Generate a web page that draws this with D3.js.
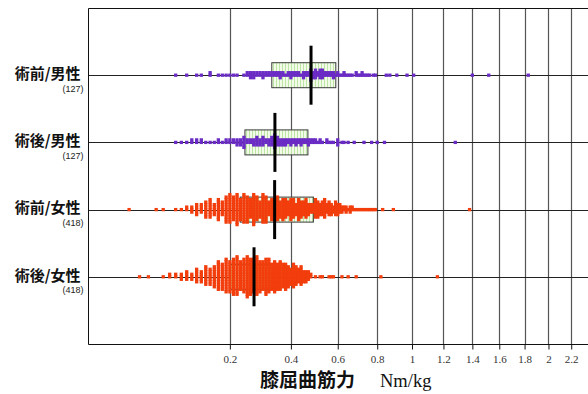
<!DOCTYPE html>
<html>
<head>
<meta charset="utf-8">
<script src="https://cdn.jsdelivr.net/npm/d3@7"></script>
<style>
  html, body { margin: 0; padding: 0; background: #fff; }
  svg { display: block; }
</style>
</head>
<body>
<svg id="chart" width="588" height="394"></svg>
<script>
// ---- data -------------------------------------------------------------
const categories = ["術前/男性", "術後/男性", "術前/女性", "術後/女性"];
const sampleSizes = [127, 127, 418, 418];

// box statistics (Nm/kg)
const boxQ1     = [0.330, 0.243, 0.229, 0.200];
const boxMedian = [0.481, 0.341, 0.340, 0.271];
const boxQ3     = [0.591, 0.468, 0.491, 0.356];

// individual measurements: value (Nm/kg) and how many subjects share it
const preMaleValues  = [0.08,0.10,0.12,0.13,0.15,0.17,0.18,0.19,0.20,0.21,0.22,0.24,0.25,0.26,0.27,0.28,0.29,0.30,0.31,0.32,
                        0.33,0.34,0.35,0.36,0.37,0.38,0.39,0.40,0.41,0.42,0.43,0.44,0.45,0.46,0.47,0.48,
                        0.49,0.50,0.51,0.52,0.53,0.54,0.55,0.56,0.57,0.58,0.59,0.60,0.61,
                        0.62,0.63,0.64,0.65,0.66,0.67,0.69,0.70,0.71,0.72,0.73,0.74,0.75,0.76,0.78,0.79,0.85,0.87,0.91,0.97,1.01,1.40,1.52,1.83];
const preMaleCounts  = [1,1,1,1,2,1,1,1,1,1,1,1,2,3,3,2,2,3,2,2,
                        2,2,2,3,2,1,2,3,2,2,2,1,3,2,2,5,
                        3,4,2,4,4,2,2,2,2,3,1,2,1,
                        1,2,1,1,1,1,2,1,1,2,1,1,1,1,1,1,1,1,1,1,1,1,1,1];

const postMaleValues = [0.08,0.09,0.10,0.11,0.12,0.13,0.14,0.15,0.16,0.17,0.18,0.19,0.20,0.21,0.22,0.23,0.24,
                        0.25,0.26,0.27,0.28,0.29,0.30,0.31,0.32,0.33,0.34,
                        0.35,0.36,0.37,0.38,0.39,0.40,0.41,0.42,0.43,0.44,0.45,0.46,0.47,
                        0.48,0.49,0.50,0.51,0.52,0.53,0.55,0.56,0.57,0.58,0.60,0.62,0.63,0.65,0.68,0.73,0.77,0.80,0.84,1.28];
const postMaleCounts = [1,1,1,2,2,2,1,1,1,2,1,2,2,2,3,3,5,
                        2,2,3,4,3,4,2,3,4,6,
                        4,3,3,3,2,3,2,3,2,3,2,2,3,
                        2,2,2,1,2,1,2,1,1,1,3,1,1,1,1,1,1,1,1,1];

const preFemaleValues  = [0.02,0.05,0.06,0.08,0.09,
                          0.10,0.11,0.12,0.13,0.14,0.15,0.16,0.17,0.18,0.19,0.20,0.21,0.22,
                          0.23,0.24,0.25,0.26,0.27,0.28,0.29,0.30,0.31,0.32,0.33,0.34,
                          0.35,0.36,0.37,0.38,0.39,0.40,0.41,0.42,0.43,0.44,0.45,0.46,0.47,0.48,0.49,
                          0.50,0.51,0.52,0.53,0.54,0.55,0.56,0.57,0.58,0.59,0.60,
                          0.61,0.62,0.63,0.64,0.65,0.66,0.67,
                          0.68,0.69,0.70,0.71,0.72,0.73,0.74,0.75,0.76,0.77,0.78,0.79,0.83,0.89,1.38];
const preFemaleCounts  = [1,1,1,1,1,
                          2,3,5,4,7,8,5,9,6,11,12,10,13,
                          9,12,11,8,13,10,7,12,11,6,9,9,
                          10,7,9,8,6,9,8,5,9,7,6,8,5,4,4,
                          8,7,5,6,8,4,6,5,3,6,5,
                          4,3,2,3,1,3,2,
                          1,1,1,1,1,1,1,1,1,1,1,1,1,1,1];

const postFemaleValues = [0.03,0.04,0.06,0.07,0.08,
                          0.09,0.10,0.11,0.12,0.13,0.14,0.15,0.16,0.17,0.18,0.19,
                          0.20,0.21,0.22,0.23,0.24,0.25,0.26,0.27,
                          0.28,0.29,0.30,0.31,0.32,0.33,0.34,0.35,
                          0.36,0.37,0.38,0.39,0.40,0.41,0.42,0.43,0.44,0.45,0.46,0.47,
                          0.48,0.50,0.52,0.53,0.56,0.57,0.58,0.62,0.65,0.69,0.82,1.16];
const postFemaleCounts = [1,1,1,2,2,
                          3,4,3,6,5,8,7,9,12,11,14,
                          13,15,16,12,14,17,15,14,
                          16,13,12,15,14,11,13,11,
                          12,10,11,9,7,10,8,6,8,5,5,4,
                          2,1,1,1,1,1,1,1,1,1,1,1];

const groupValues = [preMaleValues, postMaleValues, preFemaleValues, postFemaleValues];
const groupCounts = [preMaleCounts, postMaleCounts, preFemaleCounts, postFemaleCounts];
const groupColors = ["#6a2cc4", "#6a2cc4", "#f23d0c", "#f23d0c"];

const tickValues = [0.2, 0.4, 0.6, 0.8, 1, 1.2, 1.4, 1.6, 1.8, 2, 2.2];
const tickLabels = ["0.2", "0.4", "0.6", "0.8", "1", "1.2", "1.4", "1.6", "1.8", "2", "2.2"];

// ---- layout -----------------------------------------------------------
const frame = { left: 88, top: 8, bottom: 344, right: 588 };
const boxHalf = 12.5, medianHalf = 29.5;
const dotSize = 3.3, dotPitch = 2.5;

const svg = d3.select("#chart");

// square-root scaled strength axis
const x = d3.scaleSqrt()
  .domain([0, 2.4])
  .range([82.5, 82.5 + 329.5 * Math.sqrt(2.4)]);

const y = d3.scalePoint()
  .domain(categories)
  .range([frame.top, frame.bottom])
  .padding(1);

// hatch fill for the interquartile boxes
const defs = svg.append("defs");
const pat = defs.append("pattern")
  .attr("id", "hatch")
  .attr("width", 3).attr("height", 3)
  .attr("patternUnits", "userSpaceOnUse");
pat.append("rect").attr("width", 3).attr("height", 3).attr("fill", "#f1fbe8");
pat.append("rect").attr("width", 1).attr("height", 3).attr("fill", "#bde6a6");

// vertical grid lines
svg.append("g")
  .selectAll("line")
  .data(tickValues)
  .join("line")
  .attr("x1", d => Math.round(x(d)) + 0.5)
  .attr("x2", d => Math.round(x(d)) + 0.5)
  .attr("y1", frame.top)
  .attr("y2", frame.bottom)
  .attr("stroke", "#555")
  .attr("stroke-width", 1.2);

// category base lines
svg.append("g")
  .selectAll("line")
  .data(categories)
  .join("line")
  .attr("x1", frame.left)
  .attr("x2", frame.right)
  .attr("y1", d => Math.round(y(d)) + 0.5)
  .attr("y2", d => Math.round(y(d)) + 0.5)
  .attr("stroke", "#222")
  .attr("stroke-width", 1);

// interquartile boxes
svg.append("g")
  .selectAll("rect")
  .data(categories)
  .join("rect")
  .attr("x", (d, i) => x(boxQ1[i]))
  .attr("width", (d, i) => x(boxQ3[i]) - x(boxQ1[i]))
  .attr("y", d => y(d) - boxHalf)
  .attr("height", boxHalf * 2)
  .attr("fill", "url(#hatch)")
  .attr("stroke", "#3a3a3a")
  .attr("stroke-width", 1);

// stacked dots: subjects sharing a value are piled alternately above and below the base line
categories.forEach((cat, gi) => {
  const dots = [];
  groupValues[gi].forEach((v, k) => {
    const n = groupCounts[gi][k];
    for (let j = 0; j < n; j++) {
      const step = Math.ceil(j / 2) * (j % 2 === 1 ? -1 : 1);
      dots.push({ v, off: step * dotPitch });
    }
  });
  svg.append("g")
    .attr("fill", groupColors[gi])
    .selectAll("rect")
    .data(dots)
    .join("rect")
    .attr("x", d => x(d.v) - dotSize / 2)
    .attr("y", d => y(cat) + d.off - dotSize / 2)
    .attr("width", dotSize)
    .attr("height", dotSize);
});

// medians
svg.append("g")
  .selectAll("line")
  .data(categories)
  .join("line")
  .attr("x1", (d, i) => x(boxMedian[i]))
  .attr("x2", (d, i) => x(boxMedian[i]))
  .attr("y1", d => y(d) - medianHalf)
  .attr("y2", d => y(d) + medianHalf)
  .attr("stroke", "#000")
  .attr("stroke-width", 3);

// frame
svg.append("path")
  .attr("d", `M${frame.right},${frame.top + 0.5}H${frame.left + 0.5}V${frame.bottom + 0.5}H${frame.right}`)
  .attr("fill", "none")
  .attr("stroke", "#111")
  .attr("stroke-width", 1);

// x axis
const axis = svg.append("g")
  .attr("transform", `translate(0,${frame.bottom + 0.5})`)
  .call(d3.axisBottom(x)
    .tickValues(tickValues)
    .tickSize(5)
    .tickPadding(6)
    .tickFormat((d, i) => tickLabels[i]));
axis.select(".domain").remove();
axis.selectAll(".tick line").attr("stroke", "#111");
axis.selectAll(".tick text")
  .attr("fill", "#333")
  .style("font-family", "'Liberation Serif', 'DejaVu Serif', serif")
  .style("font-size", "11px");

// axis title
svg.append("text")
  .attr("x", 260).attr("y", 387)
  .style("font-family", "'Noto Sans CJK JP', sans-serif")
  .style("font-weight", 700)
  .style("font-size", "19px")
  .attr("fill", "#111")
  .text("膝屈曲筋力");
svg.append("text")
  .attr("x", 380).attr("y", 386.5)
  .style("font-family", "'Liberation Serif', serif")
  .style("font-size", "18.5px")
  .attr("fill", "#111")
  .text("Nm/kg");

// category labels with sample size
const lab = svg.append("g");
categories.forEach((cat, i) => {
  lab.append("text")
    .attr("x", 80.5).attr("y", y(cat) + 3.8)
    .attr("text-anchor", "end")
    .style("font-family", "'Noto Sans CJK JP', sans-serif")
    .style("font-weight", 700)
    .style("font-size", "15px")
    .attr("fill", "#111")
    .text(cat);
  lab.append("text")
    .attr("x", 83.5).attr("y", y(cat) + 16.5)
    .attr("text-anchor", "end")
    .style("font-family", "'Liberation Sans', sans-serif")
    .style("font-size", "9px")
    .attr("fill", "#222")
    .text(`(${sampleSizes[i]})`);
});
</script>
</body>
</html>
